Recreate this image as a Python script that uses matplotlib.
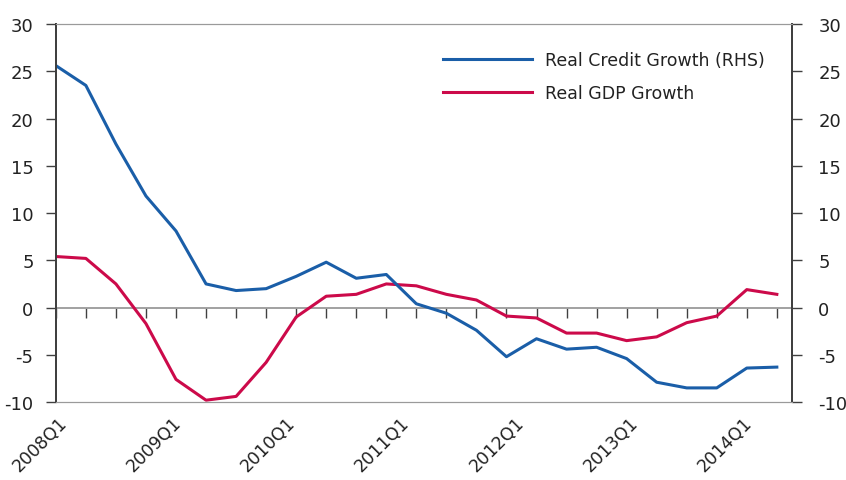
import numpy as np
import matplotlib.pyplot as plt

quarters = [f"{y}Q{q}" for y in range(2008, 2015) for q in range(1, 5)][:25]
credit = [25.6, 23.5, 17.3, 11.8, 8.1, 2.5, 1.8, 2.0, 3.3, 4.8, 3.1, 3.5, 0.4,
          -0.6, -2.4, -5.2, -3.3, -4.4, -4.2, -5.4, -7.9, -8.5, -8.5, -6.4, -6.3]
gdp = [5.4, 5.2, 2.5, -1.7, -7.6, -9.8, -9.4, -5.8, -1.0, 1.2, 1.4, 2.5, 2.3,
       1.4, 0.8, -0.9, -1.1, -2.7, -2.7, -3.5, -3.1, -1.6, -0.9, 1.9, 1.4]
yticks = [-10, -5, 0, 5, 10, 15, 20, 25, 30]

blue = '#1a5ea8'
red = '#cc0a4a'
grey = '#9a9a9a'
dark = '#404040'

plt.rcParams['font.family'] = 'DejaVu Sans'
plt.rcParams['axes.unicode_minus'] = False
fig = plt.figure(figsize=(8.46, 4.81), dpi=100)
ax = fig.add_axes([0.066, 0.162, 0.87, 0.786])
ax2 = ax.twinx()

x = np.arange(len(quarters))
l2, = ax.plot(x, gdp, color=red, lw=2.2, label='Real GDP Growth')
l1, = ax2.plot(x, credit, color=blue, lw=2.2, label='Real Credit Growth (RHS)')

for a in (ax, ax2):
    a.set_ylim(-10, 30)
    a.set_yticks(yticks)
    a.set_xlim(0, 24.5)
    a.spines['top'].set_color(grey)
    a.spines['bottom'].set_color(grey)
    a.spines['left'].set_color(dark)
    a.spines['right'].set_color(dark)
    for s in ('left', 'right'):
        a.spines[s].set_linewidth(1.4)

ax.tick_params(axis='y', length=7, width=1, color=dark, labelsize=13, pad=9,
               labelcolor='#222222')
ax2.tick_params(axis='y', length=7, width=1, color=dark, labelsize=13, pad=12,
                labelcolor='#222222')
ax.axhline(0, color=grey, lw=1.3, zorder=1)

# quarter tick marks on the zero line
sec = ax.secondary_xaxis(0.25)
sec.set_xticks(x)
sec.set_xticklabels([''] * len(x))
sec.tick_params(axis='x', length=7, width=1, color=dark, direction='out')
sec.spines['bottom'].set_visible(False)

# year labels below the plot
lab_idx = list(range(0, 25, 4))
lab_pos = [0.07 + 3.8 * k for k in range(len(lab_idx))]
ax.set_xticks(lab_pos)
ax.set_xticklabels([quarters[i] for i in lab_idx], rotation=45, ha='right',
                   rotation_mode='anchor', fontsize=12.5, color='#222222')
ax.tick_params(axis='x', length=0, pad=8)

leg = ax.legend(handles=[l1, l2], loc='upper right', bbox_to_anchor=(0.985, 0.97),
                frameon=False, fontsize=12.5, handlelength=5.1, handletextpad=0.8,
                labelspacing=0.85)
for t in leg.get_texts():
    t.set_color('#222222')

fig.savefig('out.png', dpi=100)
